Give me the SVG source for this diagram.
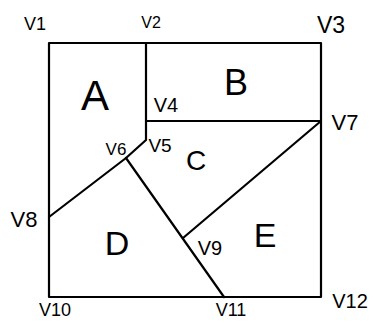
<svg xmlns="http://www.w3.org/2000/svg" width="369" height="322" viewBox="0 0 369 322">
<style>
.e{stroke:#000;stroke-width:2.2;fill:none;stroke-linecap:round;stroke-linejoin:round}
text{font-family:"Liberation Sans",Arial,sans-serif;fill:#000;text-anchor:middle}
</style>
<rect width="369" height="322" fill="#fff"/>
<g id="connectors">
<rect class="e" x="49" y="43" width="272" height="254"/>
<polyline class="e" points="146,43 146,140 126,158 49,217"/>
<line class="e" x1="146" y1="121" x2="321" y2="121"/>
<line class="e" x1="126" y1="158" x2="224" y2="297"/>
<line class="e" x1="321" y1="121" x2="183" y2="238"/>
</g>
<g id="v1"><text x="35" y="30" font-size="18">V1</text></g>
<g id="v2"><text x="151" y="28" font-size="16">V2</text></g>
<g id="v3"><text x="331" y="33" font-size="23">V3</text></g>
<g id="v4"><text x="166" y="112" font-size="20">V4</text></g>
<g id="v5"><text x="160" y="152" font-size="19">V5</text></g>
<g id="v6"><text x="116" y="155" font-size="17">V6</text></g>
<g id="v7"><text x="345" y="130" font-size="22">V7</text></g>
<g id="v8"><text x="24" y="227" font-size="22">V8</text></g>
<g id="v9"><text x="210" y="255" font-size="20">V9</text></g>
<g id="v10"><text x="55" y="316" font-size="18">V10</text></g>
<g id="v11"><text x="231" y="316" font-size="18">V11</text></g>
<g id="v12"><text x="350" y="308" font-size="20">V12</text></g>
<g id="A"><text x="95" y="110" font-size="42">A</text></g>
<g id="B"><text x="236" y="95" font-size="36">B</text></g>
<g id="C"><text x="196" y="170" font-size="28">C</text></g>
<g id="D"><text x="117" y="255" font-size="34">D</text></g>
<g id="E"><text x="265" y="247" font-size="34">E</text></g>
</svg>
